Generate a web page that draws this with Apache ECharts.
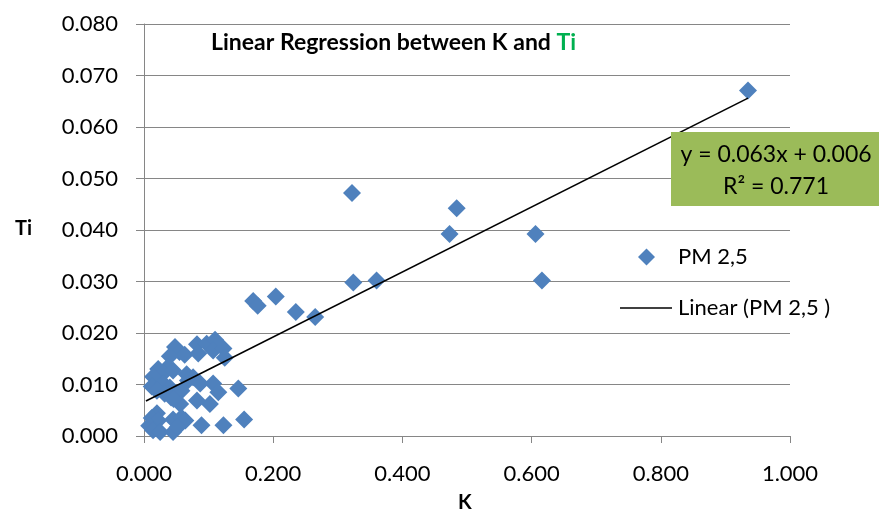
<!DOCTYPE html>
<html>
<head>
<meta charset="utf-8">
<script src="https://cdn.jsdelivr.net/npm/echarts@6/dist/echarts.min.js"></script>
<style>
html,body{margin:0;padding:0;background:#fff;}
#chart{width:879px;height:512px;}
</style>
</head>
<body>
<div id="chart"></div>
<script>
// K values (x) and Ti values (y) for PM 2,5 samples
const kValues = [
  0.935, 0.322, 0.484, 0.473, 0.606, 0.616, 0.324, 0.360, 0.169, 0.176, 0.204, 0.235, 0.265,
  0.048, 0.055, 0.063, 0.082, 0.097, 0.110, 0.107, 0.123, 0.125, 0.084, 0.040, 0.037, 0.022,
  0.030, 0.014, 0.045, 0.066, 0.076, 0.012, 0.030, 0.040, 0.020, 0.032, 0.042, 0.058, 0.068,
  0.087, 0.107, 0.115, 0.102, 0.082, 0.056, 0.046, 0.146, 0.020, 0.012, 0.022, 0.008, 0.014,
  0.025, 0.045, 0.045, 0.058, 0.064, 0.052, 0.089, 0.123, 0.155
];
const tiValues = [
  0.0671, 0.0472, 0.0442, 0.0392, 0.0392, 0.0302, 0.0298, 0.0302, 0.0262, 0.0253, 0.0271, 0.0241, 0.0231,
  0.0173, 0.0163, 0.0158, 0.0178, 0.0179, 0.0187, 0.0166, 0.0170, 0.0152, 0.0160, 0.0155, 0.0134, 0.0130,
  0.0122, 0.0115, 0.0127, 0.0120, 0.0114, 0.0096, 0.0102, 0.0094, 0.0088, 0.0082, 0.0075, 0.0088, 0.0108,
  0.0102, 0.0102, 0.0085, 0.0062, 0.0069, 0.0062, 0.0072, 0.0092, 0.0044, 0.0035, 0.0030, 0.0020, 0.0011,
  0.0008, 0.0008, 0.0032, 0.0036, 0.0030, 0.0017, 0.0021, 0.0021, 0.0032
];
// Trend line end points as drawn
const trendK = [0.003, 0.935];
const trendTi = [0.0068, 0.0656];

const seriesName = 'PM 2,5';
const trendName = 'Linear (PM 2,5 )';
const titleMain = 'Linear Regression between K and ';
const titleEl = 'Ti';
const xName = 'K';
const yName = 'Ti';
const eqLine1 = 'y = 0.063x + 0.006';
const eqLine2 = 'R\u00b2 = 0.771';

const FONT = 'Lato';
const chart = echarts.init(document.getElementById('chart'), null, {renderer: 'canvas'});

const scatterData = kValues.map((k, i) => [k, tiValues[i]]);
const trendData = trendK.map((k, i) => [k, trendTi[i]]);

chart.setOption({
  animation: false,
  backgroundColor: '#ffffff',
  textStyle: {fontFamily: FONT},
  grid: {left: 144, right: 89, top: 24, bottom: 76, containLabel: false},
  xAxis: {
    type: 'value', min: 0, max: 1, interval: 0.2,
    axisLine: {show: true, lineStyle: {color: '#868686', width: 1}},
    axisTick: {show: true, length: 7, lineStyle: {color: '#868686'}},
    splitLine: {show: false},
    axisLabel: {color: '#000', fontSize: 22, fontFamily: FONT, margin: 27,
      formatter: v => v.toFixed(3)}
  },
  yAxis: {
    type: 'value', min: 0, max: 0.08, interval: 0.01,
    axisLine: {show: true, lineStyle: {color: '#868686', width: 1}},
    axisTick: {show: true, length: 8, lineStyle: {color: '#868686'}},
    splitLine: {show: true, lineStyle: {color: '#868686', width: 1}},
    axisLabel: {color: '#000', fontSize: 22, fontFamily: FONT, margin: 26,
      formatter: v => v.toFixed(3)}
  },
  legend: [
    {
      data: [{name: seriesName, icon: 'diamond'}],
      left: 638, top: 246, padding: 0, itemWidth: 17, itemHeight: 17,
      textStyle: {color: '#000', fontSize: 22, fontFamily: FONT, padding: [0, 0, 0, 18]}
    },
    {
      data: [{name: trendName, icon: 'rect', itemStyle: {color: '#000'}}],
      left: 620, top: 297, padding: 0, itemWidth: 52, itemHeight: 1.5,
      textStyle: {color: '#000', fontSize: 22, fontFamily: FONT, padding: [0, 0, 0, 1]}
    }
  ],
  series: [
    {
      name: seriesName, type: 'scatter', data: scatterData,
      symbol: 'diamond', symbolSize: 18,
      itemStyle: {color: '#4F81BD', opacity: 1},
      z: 2
    },
    {
      name: trendName, type: 'line', data: trendData,
      symbol: 'none', showSymbol: false,
      lineStyle: {color: '#000', width: 1.6},
      itemStyle: {color: '#000'},
      z: 3
    }
  ],
  graphic: [
    {
      type: 'text', left: 211, top: 31, z: 10,
      style: {
        text: '{a|' + titleMain + '}{b|' + titleEl + '}',
        rich: {
          a: {fontFamily: FONT, fontWeight: 'bold', fontSize: 23, fill: '#000'},
          b: {fontFamily: FONT, fontWeight: 'bold', fontSize: 23, fill: '#00B050'}
        }
      }
    },
    {
      type: 'text', left: 458, top: 493, z: 10,
      style: {text: xName, fontFamily: FONT, fontWeight: 'bold', fontSize: 20, fill: '#000'}
    },
    {
      type: 'text', left: 15, top: 219, z: 10,
      style: {text: yName, fontFamily: FONT, fontWeight: 'bold', fontSize: 20, fill: '#000'}
    },
    {
      type: 'rect', left: 671, top: 132, z: 10,
      shape: {width: 208, height: 74},
      style: {fill: '#9BBB59'}
    },
    {
      type: 'text', x: 776, y: 155, z: 11,
      style: {text: eqLine1, fontFamily: FONT, fontSize: 23, fill: '#000',
        align: 'center', verticalAlign: 'middle'}
    },
    {
      type: 'text', x: 776, y: 187, z: 11,
      style: {text: eqLine2, fontFamily: FONT, fontSize: 23, fill: '#000',
        align: 'center', verticalAlign: 'middle'}
    }
  ]
});
</script>
</body>
</html>
